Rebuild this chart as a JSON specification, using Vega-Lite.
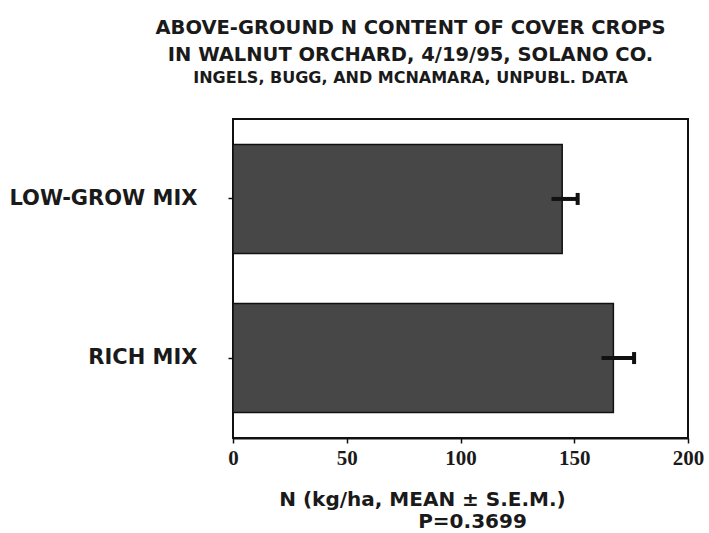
{
  "$schema": "https://vega.github.io/schema/vega-lite/v6.json",
  "width": 455,
  "height": 319,
  "autosize": {"type": "none"},
  "padding": {"left": 233, "top": 119, "right": 21, "bottom": 95},
  "background": "white",
  "title": {
    "text": ["ABOVE-GROUND N CONTENT OF COVER CROPS", "IN WALNUT ORCHARD, 4/19/95, SOLANO CO."],
    "subtitle": "INGELS, BUGG, AND MCNAMARA, UNPUBL. DATA",
    "anchor": "middle",
    "frame": "group",
    "dx": -50,
    "font": "DejaVu Sans",
    "fontSize": 19.5,
    "fontWeight": "bold",
    "color": "#1a1a1a",
    "lineHeight": 27,
    "subtitleFont": "DejaVu Sans",
    "subtitleFontSize": 16,
    "subtitleFontWeight": "bold",
    "subtitleColor": "#1a1a1a",
    "subtitlePadding": 5,
    "offset": 32
  },
  "data": {
    "values": [
      {"treatment": "LOW-GROW MIX", "mean": 144.7, "lo": 140.0, "hi": 151.5},
      {"treatment": "RICH MIX", "mean": 167.2, "lo": 162.0, "hi": 176.3}
    ]
  },
  "encoding": {
    "y": {
      "field": "treatment",
      "type": "nominal",
      "sort": null,
      "scale": {"paddingInner": 0.315, "paddingOuter": 0.16},
      "axis": {
        "title": null,
        "domain": false,
        "ticks": true,
        "tickSize": 5,
        "tickColor": "#111",
        "tickWidth": 1.5,
        "labelFont": "DejaVu Sans",
        "labelFontSize": 21,
        "labelFontWeight": "bold",
        "labelColor": "#1a1a1a",
        "labelPadding": 31,
        "labelLimit": 400
      }
    }
  },
  "resolve": {"axis": {"x": "independent"}},
  "layer": [
    {
      "mark": {"type": "bar", "color": "#474747", "stroke": "#111", "strokeWidth": 1.5},
      "encoding": {
        "x": {
          "field": "mean",
          "type": "quantitative",
          "scale": {"domain": [0, 200], "nice": false},
          "axis": {
            "orient": "bottom",
            "values": [0, 50, 100, 150, 200],
            "grid": false,
            "domainColor": "#111",
            "domainWidth": 2,
            "tickColor": "#111",
            "tickSize": 5,
            "tickWidth": 1.5,
            "labelFont": "Liberation Serif",
            "labelFontSize": 21,
            "labelFontWeight": "bold",
            "labelColor": "#1a1a1a",
            "labelPadding": 4,
            "labelFlush": false,
            "title": "N (kg/ha, MEAN ± S.E.M.)",
            "titleFont": "DejaVu Sans",
            "titleFontSize": 20,
            "titleFontWeight": "bold",
            "titleColor": "#1a1a1a",
            "titleAlign": "center",
            "titleBaseline": "alphabetic",
            "titleX": 189,
            "titleY": 67
          }
        }
      }
    },
    {
      "mark": {"type": "rule", "color": "#111", "strokeWidth": 4},
      "encoding": {
        "x": {"field": "lo", "type": "quantitative", "axis": null},
        "x2": {"field": "hi"}
      }
    },
    {
      "mark": {"type": "tick", "color": "#111", "size": 12, "thickness": 4, "opacity": 1},
      "encoding": {
        "x": {
          "field": "hi",
          "type": "quantitative",
          "axis": {
            "orient": "bottom",
            "labels": false,
            "ticks": false,
            "domain": false,
            "grid": false,
            "title": "P=0.3699",
            "titleFont": "DejaVu Sans",
            "titleFontSize": 20,
            "titleFontWeight": "bold",
            "titleColor": "#1a1a1a",
            "titleAlign": "center",
            "titleBaseline": "alphabetic",
            "titleX": 239,
            "titleY": 89
          }
        }
      }
    }
  ],
  "config": {
    "view": {"stroke": "#111", "strokeWidth": 2}
  }
}
